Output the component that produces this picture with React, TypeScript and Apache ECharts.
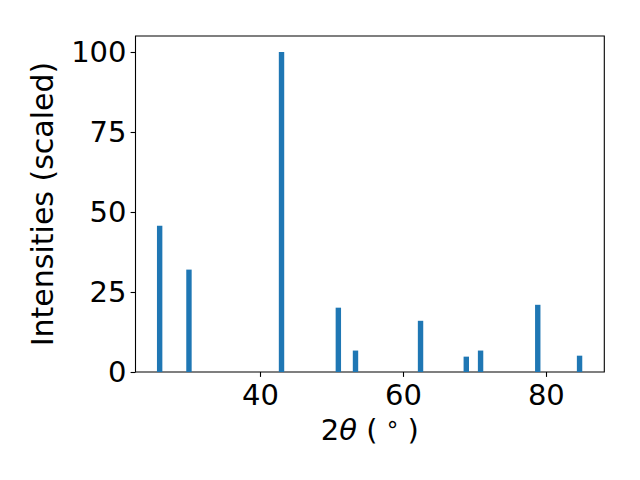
import React, { useEffect, useRef } from "react";
import * as echarts from "echarts";

const twoTheta = [25.9, 30.0, 42.95, 50.9, 53.3, 62.4, 68.8, 70.8, 78.8, 84.65];
const intensities = [45.7, 32.0, 100, 20.1, 6.7, 16.0, 4.8, 6.7, 21.0, 5.1];
const xTicks = [40, 60, 80];
const yTicks = [0, 25, 50, 75, 100];

const FONT = "DejaVu Sans";
const FS = 29;

export default function App() {
  const ref = useRef<HTMLDivElement>(null);
  useEffect(() => {
    if (!ref.current) return;
    const chart = echarts.init(ref.current, null, { renderer: "svg" });
    chart.setOption({
      animation: false,
      backgroundColor: "#ffffff",
      grid: {
        left: 135.5,
        right: 35.7,
        top: 36,
        bottom: 108,
        show: true,
        borderColor: "#000",
        borderWidth: 1.1,
        backgroundColor: "transparent",
      },
      xAxis: {
        type: "value",
        min: 22.52,
        max: 88.11,
        splitLine: { show: false },
        axisLine: { show: false },
        axisTick: { show: true, length: 4.9, lineStyle: { color: "#000", width: 1.1 }, customValues: xTicks },
        axisLabel: {
          customValues: xTicks,
          color: "#000",
          fontFamily: FONT,
          fontSize: FS,
          margin: 8,
        },
        name: "{a|2}{b|θ}{a| ( }{c|°}{a| )}",
        nameLocation: "middle",
        nameGap: 43,
        nameTextStyle: {
          rich: {
            a: { fontFamily: FONT, fontSize: FS, color: "#000" },
            b: { fontFamily: FONT, fontSize: FS, fontStyle: "italic", color: "#000" },
            c: { fontFamily: FONT, fontSize: FS * 0.8, color: "#000" },
          },
        },
      },
      yAxis: {
        type: "value",
        min: 0,
        max: 105,
        splitLine: { show: false },
        axisLine: { show: false },
        axisTick: { show: true, length: 4.9, lineStyle: { color: "#000", width: 1.1 }, customValues: yTicks },
        axisLabel: {
          customValues: yTicks,
          color: "#000",
          fontFamily: FONT,
          fontSize: FS,
          margin: 9,
        },
        name: "Intensities (scaled)",
        nameLocation: "middle",
        nameGap: 78,
        nameTextStyle: { fontFamily: FONT, fontSize: 30, color: "#000" },
      },
      series: [
        {
          type: "bar",
          barWidth: 5.4,
          itemStyle: { color: "#1f77b4" },
          data: twoTheta.map((x, i) => [x, intensities[i]]),
        },
      ],
    });
    return () => chart.dispose();
  }, []);
  return (
    <div
      ref={ref}
      style={{ position: "fixed", left: 0, top: 0, width: 640, height: 480 }}
    />
  );
}
